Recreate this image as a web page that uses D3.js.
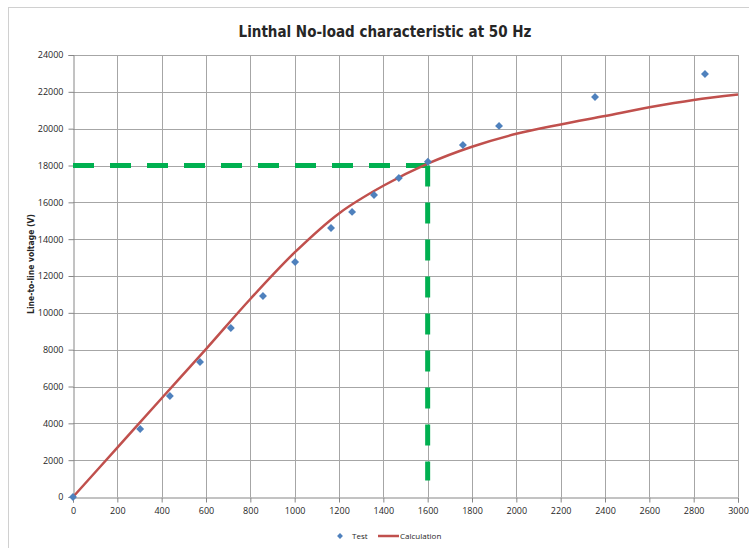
<!DOCTYPE html>
<html>
<head>
<meta charset="utf-8">
<script src="https://cdn.jsdelivr.net/npm/d3@7"></script>
<style>
  body { margin: 0; background: #fff; }
  text { font-family: "Open Sans", "DejaVu Sans", sans-serif; fill: #262626; }
</style>
</head>
<body>
<div id="chart"></div>
<script>
// test points (current A, voltage V)
var testCurrent = [0, 303, 437, 573, 712, 857, 1002, 1164, 1259, 1358, 1470, 1601, 1759, 1922, 2355, 2851];
var testVoltage = [0, 3690, 5480, 7330, 9180, 10910, 12760, 14610, 15480, 16400, 17320, 18200, 19110, 20150, 21720, 22970];

// calculated curve
var calcCurrent = [0, 200, 400, 600, 800, 1000, 1200, 1400, 1600, 1800, 2000, 2200, 2400, 2600, 2800, 3000];
var calcVoltage = [0, 2680, 5360, 8030, 10750, 13280, 15400, 16900, 18100, 19020, 19720, 20230, 20690, 21160, 21560, 21850];

// rated point guide lines
var ratedCurrent = 1600;
var ratedVoltage = 18000;
var guideBottom = 900;

var xTicks = d3.range(0, 3001, 200);
var yTicks = d3.range(0, 24001, 2000);

var W = 749, H = 548;
var mLeft = 73, mRight = 738, mTop = 55, mBottom = 497;

var svg = d3.select("#chart").append("svg")
    .attr("width", W)
    .attr("height", H);

// outer chart frame
svg.append("rect")
    .attr("x", 8.5).attr("y", 7.5)
    .attr("width", 760).attr("height", 560)
    .attr("fill", "#fff")
    .attr("stroke", "#d0d0d0");

var x = d3.scaleLinear().domain([0, 3000]).range([mLeft, mRight]);
var y = d3.scaleLinear().domain([0, 24000]).range([mBottom, mTop]);

// grid
svg.append("g").selectAll("line.v")
    .data(xTicks.slice(1))
    .enter().append("line")
    .attr("x1", function(d) { return Math.round(x(d)) + 0.5; })
    .attr("x2", function(d) { return Math.round(x(d)) + 0.5; })
    .attr("y1", mTop).attr("y2", mBottom)
    .style("stroke", "#a6a6a6");

svg.append("g").selectAll("line.h")
    .data(yTicks.slice(1))
    .enter().append("line")
    .attr("x1", mLeft).attr("x2", mRight)
    .attr("y1", function(d) { return Math.round(y(d)) + 0.5; })
    .attr("y2", function(d) { return Math.round(y(d)) + 0.5; })
    .style("stroke", "#a6a6a6");

// axes
var xAxis = svg.append("g")
    .attr("transform", "translate(0," + (Math.round(y(0)) + 0.5) + ")")
    .call(d3.axisBottom(x).tickValues(xTicks).tickSize(5).tickPadding(5).tickFormat(d3.format("d")));
var yAxis = svg.append("g")
    .attr("transform", "translate(" + (Math.round(x(0)) + 0.5) + ",0)")
    .call(d3.axisLeft(y).tickValues(yTicks).tickSize(5).tickPadding(5).tickFormat(d3.format("d")));

[xAxis, yAxis].forEach(function(a) {
    a.select(".domain").attr("stroke", "#868686");
    a.selectAll(".tick line").attr("stroke", "#868686");
    a.selectAll(".tick text")
        .style("font-size", "9px")
        .style("font-family", "'Open Sans', sans-serif")
        .attr("fill", "#1a1a1a");
});

// green guide lines
svg.append("path")
    .attr("d", "M" + x(0) + "," + y(ratedVoltage) + "H" + x(ratedCurrent))
    .attr("fill", "none")
    .style("stroke", "#00b050")
    .style("stroke-width", 5)
    .style("stroke-dasharray", "21,16");
svg.append("path")
    .attr("d", "M" + x(ratedCurrent) + "," + y(ratedVoltage) + "V" + y(guideBottom))
    .attr("fill", "none")
    .style("stroke", "#00b050")
    .style("stroke-width", 5)
    .style("stroke-dasharray", "21,16");

// calculation curve
var calc = calcCurrent.map(function(c, i) { return [c, calcVoltage[i]]; });
var line = d3.line()
    .x(function(d) { return x(d[0]); })
    .y(function(d) { return y(d[1]); })
    .curve(d3.curveCatmullRom);
svg.append("path")
    .datum(calc)
    .attr("d", line)
    .attr("fill", "none")
    .style("stroke", "#c0504d")
    .style("stroke-width", 2.5);

// test points
var tests = testCurrent.map(function(c, i) { return [c, testVoltage[i]]; });
var diamond = d3.symbol().type(d3.symbolDiamond2).size(40);
svg.append("g").selectAll("path")
    .data(tests)
    .enter().append("path")
    .attr("d", diamond)
    .attr("transform", function(d) { return "translate(" + x(d[0]) + "," + y(d[1]) + ")"; })
    .attr("fill", "#4f81bd");

// title
svg.append("text")
    .attr("x", 385).attr("y", 37)
    .attr("text-anchor", "middle")
    .style("font-family", "'DejaVu Sans Condensed', sans-serif")
    .style("font-weight", "bold")
    .style("font-size", "15px")
    .text("Linthal No-load characteristic at 50 Hz");

// y label
svg.append("text")
    .attr("transform", "translate(34,264) rotate(-90)")
    .attr("text-anchor", "middle")
    .style("font-family", "'DejaVu Sans Condensed', sans-serif")
    .style("font-weight", "bold")
    .style("font-size", "8.5px")
    .text("Line-to-line voltage (V)");

// legend
var lg = svg.append("g").attr("transform", "translate(0,536)");
lg.append("path")
    .attr("d", d3.symbol().type(d3.symbolDiamond2).size(22))
    .attr("transform", "translate(340,0)")
    .attr("fill", "#4f81bd");
lg.append("text")
    .attr("x", 352).attr("y", 3)
    .style("font-size", "8px")
    .text("Test");
lg.append("line")
    .attr("x1", 378).attr("x2", 399)
    .attr("y1", 0).attr("y2", 0)
    .style("stroke", "#c0504d")
    .style("stroke-width", 2.5);
lg.append("text")
    .attr("x", 400).attr("y", 3)
    .style("font-size", "8px")
    .text("Calculation");
</script>
</body>
</html>
